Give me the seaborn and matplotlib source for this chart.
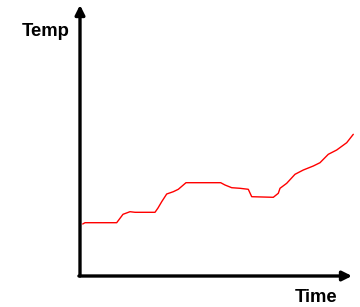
import matplotlib
matplotlib.use("Agg")
import matplotlib.pyplot as plt
import seaborn as sns
import pandas as pd

# values (arbitrary units)
time = [2.7, 5, 36.7, 43, 50, 55, 75, 78, 81.7, 86.7, 93.3, 98.3, 106, 140.7,
        145, 151.7, 160, 168.3, 171.7, 193.3, 198.3, 200, 206.7, 215, 223.3,
        233.3, 240, 248.3, 256.7, 266.7, 273.3]
temp = [52, 53.3, 53.3, 61.7, 64.3, 63.7, 63.7, 68, 74.3, 82, 84.3, 86.7, 93.3,
        93.3, 91, 88.3, 87.7, 86.7, 79.3, 78.7, 82.7, 87.7, 92.7, 101.7, 106,
        110, 113.3, 121.7, 126, 133.3, 141.7]

df = pd.DataFrame({"Time": time, "Temp": temp})

sns.set_style("white")
plt.rcParams["font.family"] = ["Liberation Sans", "DejaVu Sans"]

W, H = 360, 307
fig = plt.figure(figsize=(W / 100, H / 100), dpi=100)
ax = fig.add_axes([80 / W, (H - 276) / H, (352 - 80) / W, (276 - 5) / H])

sns.lineplot(data=df, x="Time", y="Temp", color="#ff0000", linewidth=1.0,
             ax=ax, sort=False)
for ln in ax.lines:
    ln.set_clip_on(False)

ax.set_xlim(0, 272)
ax.set_ylim(0, 271)
for s in ax.spines.values():
    s.set_visible(False)
ax.set_xticks([])
ax.set_yticks([])
ax.set_xlabel("")
ax.set_ylabel("")

# axis arrows
arrow = dict(arrowstyle="-|>", color="black", lw=2.4, mutation_scale=14,
             shrinkA=0, shrinkB=0)
ax.annotate("", xy=(0, 1), xytext=(0, 0), xycoords="axes fraction",
            textcoords="axes fraction", arrowprops=arrow, annotation_clip=False)
ax.annotate("", xy=(1, 0), xytext=(-0.004, 0), xycoords="axes fraction",
            textcoords="axes fraction", arrowprops=arrow, annotation_clip=False)

fig.text(46 / W, 1 - 31 / H, "Temp", ha="center", va="center",
         fontsize=13.3, fontweight="bold", color="black")
fig.text(316 / W, 1 - 298 / H, "Time", ha="center", va="center",
         fontsize=13.3, fontweight="bold", color="black")

fig.savefig("out.png", dpi=100)
